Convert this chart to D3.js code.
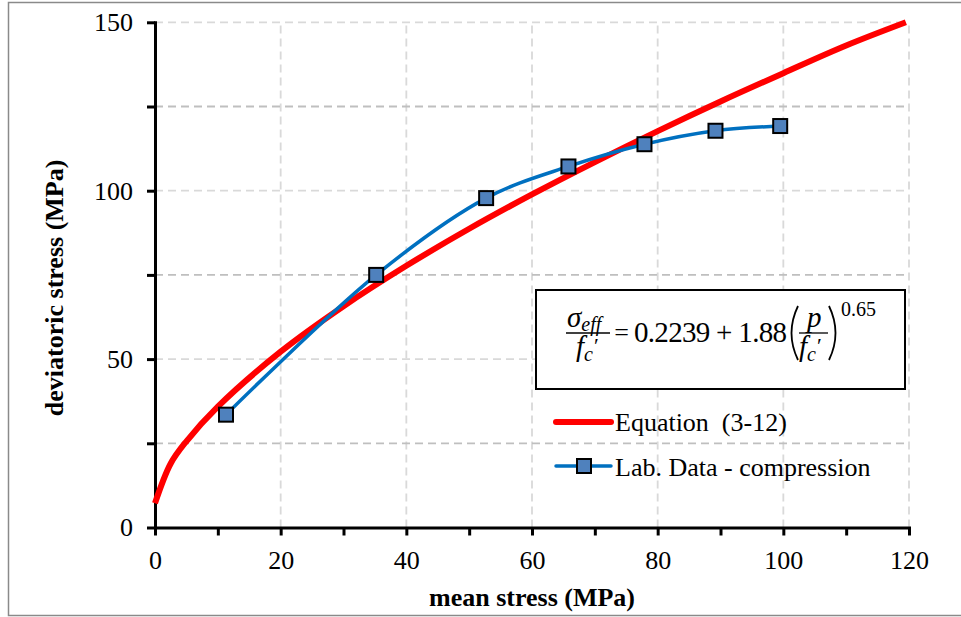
<!DOCTYPE html>
<html>
<head>
<meta charset="utf-8">
<script src="https://cdn.jsdelivr.net/npm/d3@7"></script>
<style>
  html, body { margin: 0; padding: 0; background: #fff; }
  svg { display: block; }
  text { font-family: "Liberation Serif", "Times New Roman", serif; fill: #000; }
</style>
</head>
<body>
<svg id="chart" width="961" height="617"></svg>
<script>
// Mean stress (MPa) vs deviatoric stress (MPa): lab compression results
const labMeanStress = [11.3, 35.2, 52.7, 65.8, 77.9, 89.2, 99.5];
const labDeviatoric = [33.5, 75.0, 97.8, 107.2, 113.8, 117.8, 119.2];

// Equation (3-12) curve sampled along the mean stress axis
const eqMeanStress = [0, 2.5, 5, 10, 20, 30, 40, 50, 60, 70, 80, 90, 100, 110, 119.5];
const eqDeviatoric = [7.2, 19.0, 25.6, 35.9, 52.2, 65.7, 77.7, 88.7, 98.9, 108.5, 117.7, 126.5, 134.9, 143.1, 150];

// Axis ticks
const xTicks = [0, 10, 20, 30, 40, 50, 60, 70, 80, 90, 100, 110, 120];
const xLabels = [0, 20, 40, 60, 80, 100, 120];
const yTicks = [0, 25, 50, 75, 100, 125, 150];
const yLabels = [0, 50, 100, 150];
const xGrid = [20, 40, 60, 80, 100, 120];
const yGridMajor = [50, 100, 150];
const yGridMinor = [25, 75, 125];

const xTitle = "mean stress (MPa)";
const yTitle = "deviatoric stress (MPa)";
const legendLabels = ["Equation  (3-12)", "Lab. Data - compression"];

const FS = 26;
const svg = d3.select("#chart");

// Outer chart frame
svg.append("rect")
  .attr("x", 8.5).attr("y", 2.5)
  .attr("width", 970).attr("height", 613)
  .attr("fill", "#fff").attr("stroke", "#8a8a8a").attr("stroke-width", 1.5);

const x = d3.scaleLinear().domain([0, 120]).range([155, 909]);
const y = d3.scaleLinear().domain([0, 150]).range([527.5, 22.3]);

// Gridlines
const grid = svg.append("g");
grid.selectAll(".vg").data(xGrid).join("line")
  .attr("x1", d => x(d)).attr("x2", d => x(d))
  .attr("y1", y(0)).attr("y2", y(150))
  .attr("stroke", "#d9d9d9").attr("stroke-width", 1.8).attr("stroke-dasharray", "8,5");
grid.selectAll(".hg").data(yGridMajor).join("line")
  .attr("x1", x(0)).attr("x2", x(120))
  .attr("y1", d => y(d)).attr("y2", d => y(d))
  .attr("stroke", "#d9d9d9").attr("stroke-width", 1.8).attr("stroke-dasharray", "8,5");
grid.selectAll(".hm").data(yGridMinor).join("line")
  .attr("x1", x(0)).attr("x2", x(120))
  .attr("y1", d => y(d)).attr("y2", d => y(d))
  .attr("stroke", "#bfbfbf").attr("stroke-width", 1.8).attr("stroke-dasharray", "8,5");

// Axes
const xAxis = d3.axisBottom(x).tickValues(xTicks)
  .tickFormat(d => xLabels.includes(d) ? d : "")
  .tickSize(8).tickSizeOuter(0).tickPadding(15);
const yAxis = d3.axisLeft(y).tickValues(yTicks)
  .tickFormat(d => yLabels.includes(d) ? d : "")
  .tickSize(8).tickSizeOuter(0).tickPadding(14);

const gx = svg.append("g").attr("transform", `translate(0,${y(0)})`).call(xAxis);
const gy = svg.append("g").attr("transform", `translate(${x(0)},0)`).call(yAxis);
[gx, gy].forEach(g => {
  g.attr("font-family", "Liberation Serif").attr("font-size", FS);
  g.select(".domain").attr("stroke", "#000").attr("stroke-width", 3).attr("stroke-linecap", "square");
  g.selectAll(".tick line").attr("stroke", "#000").attr("stroke-width", 3);
  g.selectAll(".tick text").style("font-family", "Liberation Serif").style("font-size", FS + "px").attr("fill", "#000");
});

// Axis titles
svg.append("text")
  .attr("x", (x(0) + x(120)) / 2).attr("y", 605.5)
  .attr("text-anchor", "middle").attr("font-size", FS).attr("font-weight", "bold")
  .text(xTitle);
svg.append("text")
  .attr("transform", `translate(63,${(y(0) + y(150)) / 2 + 13}) rotate(-90)`)
  .attr("text-anchor", "middle").attr("font-size", FS).attr("font-weight", "bold")
  .text(yTitle);

// Series
const eqData = eqMeanStress.map((p, i) => [p, eqDeviatoric[i]]);
const labData = labMeanStress.map((p, i) => [p, labDeviatoric[i]]);
const line = d3.line().x(d => x(d[0])).y(d => y(d[1])).curve(d3.curveCatmullRom.alpha(0.5));

svg.append("path").datum(eqData).attr("d", line)
  .attr("fill", "none").attr("stroke", "#ff0000").attr("stroke-width", 6).attr("stroke-linejoin", "round");
svg.append("path").datum(labData).attr("d", line)
  .attr("fill", "none").attr("stroke", "#0070c0").attr("stroke-width", 3.5);
svg.selectAll(".mk").data(labData).join("rect")
  .attr("x", d => x(d[0]) - 7).attr("y", d => y(d[1]) - 7)
  .attr("width", 14).attr("height", 14)
  .attr("fill", "#4f81bd").attr("stroke", "#000").attr("stroke-width", 2);

// Equation box
svg.append("rect").attr("x", 536).attr("y", 290).attr("width", 369).attr("height", 99)
  .attr("fill", "#fff").attr("stroke", "#000").attr("stroke-width", 2);

const eq = svg.append("g");
// left fraction: sigma_eff / f_c'
const num1 = eq.append("text").attr("x", 567).attr("y", 327).attr("font-size", 29).attr("font-style", "italic");
num1.append("tspan").text("σ");
num1.append("tspan").attr("font-size", 20).attr("dy", 4).text("eff");
eq.append("line").attr("x1", 566).attr("x2", 610).attr("y1", 333).attr("y2", 333).attr("stroke", "#000").attr("stroke-width", 1.3);
const den1 = eq.append("text").attr("x", 576).attr("y", 356).attr("font-size", 29).attr("font-style", "italic");
den1.append("tspan").text("f");
den1.append("tspan").attr("font-size", 20).attr("dy", 5).text("c");
den1.append("tspan").attr("font-size", 22).attr("font-style", "normal").attr("dy", -8).attr("dx", 1).text("′");
// constant terms
eq.append("text").attr("x", 621.5).attr("y", 341).attr("font-size", 26).attr("text-anchor", "middle").text("=");
eq.append("text").attr("x", 634).attr("y", 342).attr("font-size", 29)
  .attr("textLength", 153).attr("lengthAdjust", "spacing").text("0.2239 + 1.88");
// brackets
eq.append("path").attr("d", "M798,306 Q785,333 798,360").attr("fill", "none").attr("stroke", "#000").attr("stroke-width", 1.8);
eq.append("path").attr("d", "M829,306 Q842,333 829,360").attr("fill", "none").attr("stroke", "#000").attr("stroke-width", 1.8);
// inner fraction: p / f_c'
eq.append("text").attr("x", 807).attr("y", 327).attr("font-size", 29).attr("font-style", "italic").text("p");
eq.append("line").attr("x1", 799).attr("x2", 828).attr("y1", 333).attr("y2", 333).attr("stroke", "#000").attr("stroke-width", 1.3);
const den2 = eq.append("text").attr("x", 799).attr("y", 356).attr("font-size", 29).attr("font-style", "italic");
den2.append("tspan").text("f");
den2.append("tspan").attr("font-size", 20).attr("dy", 5).text("c");
den2.append("tspan").attr("font-size", 22).attr("font-style", "normal").attr("dy", -8).attr("dx", 1).text("′");
// exponent
eq.append("text").attr("x", 841).attr("y", 316).attr("font-size", 20).text("0.65");

// Legend
svg.append("line").attr("x1", 556).attr("x2", 611).attr("y1", 422).attr("y2", 422)
  .attr("stroke", "#ff0000").attr("stroke-width", 6).attr("stroke-linecap", "round");
svg.append("text").attr("x", 615).attr("y", 430.5).attr("font-size", FS)
  .style("white-space", "pre").text(legendLabels[0]);
svg.append("line").attr("x1", 556).attr("x2", 611).attr("y1", 466).attr("y2", 466)
  .attr("stroke", "#0070c0").attr("stroke-width", 3.5).attr("stroke-linecap", "round");
svg.append("rect").attr("x", 577).attr("y", 459).attr("width", 14).attr("height", 14)
  .attr("fill", "#4f81bd").attr("stroke", "#000").attr("stroke-width", 2);
svg.append("text").attr("x", 615).attr("y", 475.5).attr("font-size", FS).text(legendLabels[1]);
</script>
</body>
</html>
